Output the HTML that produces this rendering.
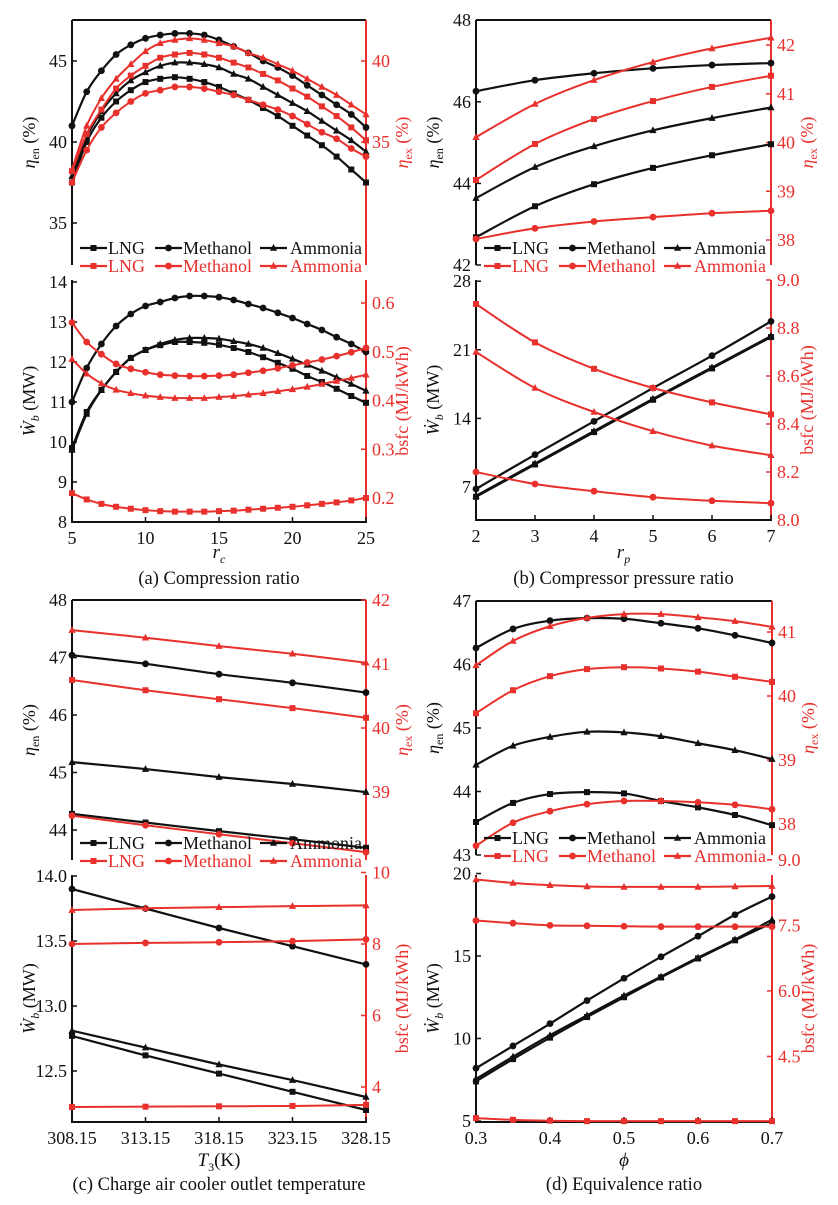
<!DOCTYPE html>
<html><head><meta charset="utf-8">
<style>
html,body{margin:0;padding:0;background:#fff;}
svg{display:block;font-family:"Liberation Serif",serif;}
</style></head>
<body>
<svg id="fig" width="838" height="1205" viewBox="0 0 838 1205" xmlns="http://www.w3.org/2000/svg"></svg>
<script>
// ---------- DATA ----------
const xA = [5,6,7,8,9,10,11,12,13,14,15,16,17,18,19,20,21,22,23,24,25];
const aEnLNG = [37.5,40.0,41.5,42.5,43.2,43.7,43.9,44.0,43.9,43.7,43.4,43.0,42.6,42.1,41.6,41.0,40.4,39.8,39.1,38.3,37.5];
const aEnMeth = [41.0,43.1,44.4,45.4,46.0,46.4,46.6,46.7,46.7,46.6,46.3,45.9,45.5,45.0,44.6,44.1,43.5,42.9,42.3,41.7,40.9];
const aEnAmm = [37.9,40.3,41.9,43.0,43.8,44.3,44.7,44.9,44.9,44.8,44.6,44.2,43.9,43.4,42.9,42.4,41.9,41.3,40.7,40.1,39.4];
const aExLNG = [33.2,35.5,37.0,38.3,39.1,39.7,40.2,40.4,40.5,40.4,40.2,39.9,39.6,39.2,38.8,38.3,37.8,37.2,36.6,35.9,35.1];
const aExMeth = [32.5,34.5,35.9,36.8,37.5,38.0,38.2,38.4,38.4,38.3,38.1,37.9,37.6,37.3,37.0,36.6,36.1,35.6,35.2,34.6,34.1];
const aExAmm = [33.3,36.0,37.7,38.9,39.8,40.6,41.1,41.3,41.4,41.3,41.1,40.9,40.5,40.2,39.8,39.4,38.9,38.4,37.9,37.3,36.7];
const aWLNG = [9.85,10.75,11.3,11.75,12.1,12.3,12.42,12.5,12.5,12.48,12.43,12.35,12.25,12.12,11.98,11.83,11.65,11.5,11.33,11.15,10.98];
const aWMeth = [11.0,11.85,12.45,12.9,13.2,13.4,13.5,13.6,13.65,13.65,13.62,13.55,13.45,13.35,13.23,13.1,12.95,12.8,12.62,12.45,12.25];
const aWAmm = [9.8,10.7,11.3,11.75,12.1,12.3,12.45,12.55,12.6,12.6,12.58,12.52,12.45,12.35,12.22,12.08,11.93,11.78,11.62,11.45,11.28];
const aBLNG = [0.21,0.197,0.188,0.182,0.178,0.175,0.173,0.172,0.172,0.172,0.173,0.174,0.176,0.178,0.18,0.182,0.185,0.188,0.191,0.195,0.2];
const aBMeth = [0.56,0.52,0.495,0.475,0.465,0.458,0.453,0.451,0.45,0.45,0.451,0.453,0.457,0.461,0.466,0.472,0.478,0.484,0.491,0.499,0.508];
const aBAmm = [0.485,0.455,0.435,0.422,0.415,0.41,0.407,0.405,0.405,0.405,0.407,0.409,0.412,0.415,0.419,0.423,0.428,0.434,0.44,0.446,0.453];

const xB = [2,3,4,5,6,7];
const bEnLNG = [42.68,43.44,43.98,44.38,44.69,44.96];
const bEnMeth = [46.26,46.53,46.70,46.82,46.90,46.95];
const bEnAmm = [43.64,44.40,44.91,45.30,45.60,45.86];
const bExLNG = [39.23,39.97,40.48,40.85,41.14,41.37];
const bExMeth = [38.02,38.24,38.38,38.47,38.55,38.60];
const bExAmm = [40.11,40.79,41.28,41.65,41.93,42.15];
const bWLNG = [6.0,9.3,12.6,15.9,19.1,22.3];
const bWMeth = [6.8,10.3,13.7,17.1,20.4,23.9];
const bWAmm = [6.1,9.4,12.7,16.0,19.2,22.4];
const bBLNG = [8.90,8.74,8.63,8.55,8.49,8.44];
const bBMeth = [8.20,8.15,8.12,8.095,8.08,8.07];
const bBAmm = [8.70,8.55,8.45,8.37,8.31,8.27];

const xC = [308.15,313.15,318.15,323.15,328.15];
const cEnLNG = [44.28,44.13,43.98,43.84,43.69];
const cEnMeth = [47.04,46.89,46.71,46.56,46.39];
const cEnAmm = [45.18,45.06,44.92,44.80,44.66];
const cExLNG = [40.75,40.59,40.45,40.31,40.16];
const cExMeth = [38.63,38.48,38.34,38.20,38.06];
const cExAmm = [41.53,41.41,41.28,41.16,41.02];
const cWLNG = [12.77,12.62,12.48,12.34,12.20];
const cWMeth = [13.90,13.75,13.60,13.46,13.32];
const cWAmm = [12.81,12.68,12.55,12.43,12.30];
const cBLNG = [3.44,3.45,3.46,3.47,3.50];
const cBMeth = [8.00,8.03,8.05,8.08,8.13];
const cBAmm = [8.95,9.00,9.03,9.06,9.08];

const xD = [0.3,0.35,0.4,0.45,0.5,0.55,0.6,0.65,0.7];
const dEnLNG = [43.52,43.82,43.96,43.99,43.97,43.85,43.75,43.63,43.47];
const dEnMeth = [46.26,46.56,46.69,46.73,46.72,46.65,46.57,46.46,46.34];
const dEnAmm = [44.42,44.72,44.86,44.94,44.93,44.87,44.76,44.65,44.51];
const dExLNG = [39.73,40.09,40.31,40.42,40.45,40.43,40.38,40.30,40.22];
const dExMeth = [37.66,38.02,38.20,38.31,38.36,38.36,38.34,38.30,38.23];
const dExAmm = [40.48,40.86,41.09,41.22,41.28,41.28,41.23,41.17,41.08];
const dWLNG = [7.4,8.75,10.05,11.3,12.5,13.7,14.85,15.95,17.0];
const dWMeth = [8.2,9.55,10.9,12.3,13.65,14.95,16.2,17.5,18.6];
const dWAmm = [7.55,8.9,10.2,11.4,12.6,13.75,14.9,16.0,17.2];
const dBLNG = [3.09,3.05,3.03,3.02,3.02,3.02,3.02,3.02,3.02];
const dBMeth = [7.61,7.55,7.50,7.49,7.48,7.47,7.47,7.47,7.47];
const dBAmm = [8.55,8.47,8.42,8.39,8.38,8.38,8.38,8.39,8.40];

const aXTicks = [5,10,15,20,25];
const bXTicks = [2,3,4,5,6,7];
const cXTicks = ["308.15","313.15","318.15","323.15","328.15"];
const dXTicks = ["0.3","0.4","0.5","0.6","0.7"];

// ---------- DRAW ----------
const NS = "http://www.w3.org/2000/svg";
const svg = document.getElementById('fig');
const RED = "#e8302c";
function mk(tag, attrs, parent){
  const e = document.createElementNS(NS, tag);
  for (const k in attrs) e.setAttribute(k, attrs[k]);
  (parent||svg).appendChild(e);
  return e;
}
function lin(d0,d1,p0,p1){ return v => p0 + (v-d0)*(p1-p0)/(d1-d0); }

function smoothPath(pts){
  let d = "M"+pts[0][0].toFixed(2)+","+pts[0][1].toFixed(2);
  for (let i=0;i<pts.length-1;i++){
    const p0=pts[Math.max(0,i-1)], p1=pts[i], p2=pts[i+1], p3=pts[Math.min(pts.length-1,i+2)];
    const c1=[p1[0]+(p2[0]-p0[0])/6, p1[1]+(p2[1]-p0[1])/6];
    const c2=[p2[0]-(p3[0]-p1[0])/6, p2[1]-(p3[1]-p1[1])/6];
    d += " C"+c1[0].toFixed(2)+","+c1[1].toFixed(2)+" "+c2[0].toFixed(2)+","+c2[1].toFixed(2)+" "+p2[0].toFixed(2)+","+p2[1].toFixed(2);
  }
  return d;
}
function marker(g, type, x, y, color, s){
  let e;
  if (type==='sq') e = mk('rect',{x:x-s,y:y-s,width:2*s,height:2*s,fill:color},g);
  else if (type==='ci') e = mk('circle',{cx:x,cy:y,r:s+0.4,fill:color},g);
  else e = mk('polygon',{points:`${x},${y-s-1} ${x-s-0.6},${y+s-0.2} ${x+s+0.6},${y+s-0.2}`,fill:color},g);
  return e;
}
function series(name, xs, ys, sx, sy, color, type){
  const g = mk('g',{});
  
  
  const pts = xs.map((x,i)=>[sx(x), sy(ys[i])]);
  const p = mk('path',{d:smoothPath(pts),fill:'none',stroke:color,'stroke-width':color===RED?2:2.2},g);
  
  
  pts.forEach(pt=>{
    const m = marker(g,type,pt[0],pt[1],color,3);
    
    
  });
}
function text(str, x, y, opts, name){
  const t = mk('text',Object.assign({x:x,y:y,'font-size':18,fill:'#111'},opts||{}));
  t.textContent = str;
  
  
  return t;
}
function yAxis(x, top, bot, ticks, sy, color, side, name){
  const l = mk('line',{x1:x,y1:top,x2:x,y2:bot,stroke:color,'stroke-width':2});
  
  
  ticks.forEach(t=>{
    const y = sy(parseFloat(t));
    const dx = side==='L'? 5 : -5;
    mk('line',{x1:x,y1:y,x2:x+dx,y2:y,stroke:color,'stroke-width':1.5});
    if (side==='L') text(t, x-5, y+6, {'text-anchor':'end',fill:color}, name+'-tick');
    else text(t, x+6, y+6, {'text-anchor':'start',fill:color}, name+'-tick');
  });
}
function xAxis(x0,x1,y,ticks,sx,name){
  const l = mk('line',{x1:x0-1,y1:y,x2:x1+1,y2:y,stroke:'#111','stroke-width':2});
  
  
  ticks.forEach(t=>{
    const x = sx(parseFloat(t));
    mk('line',{x1:x,y1:y,x2:x,y2:y-5,stroke:'#111','stroke-width':1.5});
    text(String(t), x, y+22, {'text-anchor':'middle'}, name+'-tick');
  });
}
function vlabel(parts, cx, cy, color, name){
  const t = mk('text',{x:0,y:0,'font-size':18,fill:color,'text-anchor':'middle',transform:`translate(${cx},${cy}) rotate(-90)`});
  
  
  parts.forEach(p=>{
    const ts = mk('tspan',p.a||{},t);
    ts.textContent = p.s;
  });
}
function legend(x0, yb){
  const items = [['LNG','sq',8,36],['Methanol','ci',83,111],['Ammonia','tr',188,218]];
  [['#111',yb-17],[RED,yb+1]].forEach(([c,y],row)=>{
    const g = mk('g',{});
    
    
    items.forEach(([lab,m,s,tx])=>{
      mk('line',{x1:x0+s,y1:y,x2:x0+s+27,y2:y,stroke:c,'stroke-width':2.2},g);
      marker(g,m,x0+s+13.5,y,c,3);
      const t = text(lab, x0+tx, y+6, {fill:c}, 'legend-entry');
      g.appendChild(t);
    });
  });
}

function panel(P){
  const sx = lin(P.xd[0],P.xd[1],P.x0,P.x1);
  mk('line',{x1:P.x0,y1:P.ut,x2:P.x1,y2:P.ut,stroke:'#111','stroke-width':2});
  yAxis(P.x0,P.ut,P.ub,P.uLT,P.uL,'#111','L',P.id+'-upper-left-axis');
  yAxis(P.x1,P.ut,P.ub,P.uRT,P.uR,RED,'R',P.id+'-upper-right-axis');
  yAxis(P.x0,P.lt,P.lb,P.lLT,P.lL,'#111','L',P.id+'-lower-left-axis');
  yAxis(P.x1,P.lt,P.lb,P.lRT,P.lR,RED,'R',P.id+'-lower-right-axis');
  xAxis(P.x0,P.x1,P.lb,P.xt,sx,P.id+'-x-axis');
  const S = P.S;
  series(P.id+'-en-lng',P.xs,S[0],sx,P.uL,'#111','sq');
  series(P.id+'-en-methanol',P.xs,S[1],sx,P.uL,'#111','ci');
  series(P.id+'-en-ammonia',P.xs,S[2],sx,P.uL,'#111','tr');
  series(P.id+'-ex-lng',P.xs,S[3],sx,P.uR,RED,'sq');
  series(P.id+'-ex-methanol',P.xs,S[4],sx,P.uR,RED,'ci');
  series(P.id+'-ex-ammonia',P.xs,S[5],sx,P.uR,RED,'tr');
  series(P.id+'-w-lng',P.xs,S[6],sx,P.lL,'#111','sq');
  series(P.id+'-w-methanol',P.xs,S[7],sx,P.lL,'#111','ci');
  series(P.id+'-w-ammonia',P.xs,S[8],sx,P.lL,'#111','tr');
  series(P.id+'-bsfc-lng',P.xs,S[9],sx,P.lR,RED,'sq');
  series(P.id+'-bsfc-methanol',P.xs,S[10],sx,P.lR,RED,'ci');
  series(P.id+'-bsfc-ammonia',P.xs,S[11],sx,P.lR,RED,'tr');
  legend(P.x0, P.ub);
  const lx = P.x0-37, rx = P.x1+42;
  const um = (P.ut+P.ub)/2, lm=(P.lt+P.lb)/2;
  vlabel([{s:'η',a:{'font-style':'italic'}},{s:'en',a:{'font-size':12,dy:4}},{s:' (%)',a:{dy:-4}}], lx, um, '#111', P.id+'-y-label-en');
  vlabel([{s:'η',a:{'font-style':'italic'}},{s:'ex',a:{'font-size':12,dy:4}},{s:' (%)',a:{dy:-4}}], rx, um, RED, P.id+'-y-label-ex');
  vlabel([{s:'Ẇ',a:{'font-style':'italic'}},{s:'b',a:{'font-size':12,dy:4,'font-style':'italic'}},{s:' (MW)',a:{dy:-4}}], lx, lm, '#111', P.id+'-y-label-w');
  vlabel([{s:'bsfc (MJ/kWh)'}], rx, lm, RED, P.id+'-y-label-bsfc');
  const cx = (P.x0+P.x1)/2;
  const xl = mk('text',{x:cx,y:P.lb+P.xlo,'font-size':19,'text-anchor':'middle',fill:'#111'});
  
  
  P.xl.forEach(p=>{ const ts=mk('tspan',p.a||{},xl); ts.textContent=p.s; });
  text(P.cap, cx, P.lb+P.capo, {'text-anchor':'middle','font-size':18.5}, P.id+'-caption');
}

panel({id:'a',x0:72,x1:366,xd:[5,25],xs:xA,xt:aXTicks,xlo:36,capo:62,
  ut:20,ub:265,uL:v=>61+(45-v)*16.2,uR:v=>61+(40-v)*16.2,uLT:['35','40','45'],uRT:['35','40'],
  lt:280,lb:522,lL:v=>522-(v-8)*40,lR:v=>498-(v-0.2)*487.5,lLT:['8','9','10','11','12','13','14'],lRT:['0.2','0.3','0.4','0.5','0.6'],
  S:[aEnLNG,aEnMeth,aEnAmm,aExLNG,aExMeth,aExAmm,aWLNG,aWMeth,aWAmm,aBLNG,aBMeth,aBAmm],
  xl:[{s:'r',a:{'font-style':'italic'}},{s:'c',a:{'font-size':12,dy:5,'font-style':'italic'}}],cap:'(a) Compression ratio'});
panel({id:'b',x0:476,x1:771,xd:[2,7],xs:xB,xt:bXTicks,xlo:38,capo:64,
  ut:20,ub:265,uL:v=>265-(v-42)*40.8,uR:v=>240-(v-38)*48.75,uLT:['42','44','46','48'],uRT:['38','39','40','41','42'],
  lt:280,lb:520,lL:v=>487-(v-7)*9.8,lR:v=>520-(v-8)*240,lLT:['7','14','21','28'],lRT:['8.0','8.2','8.4','8.6','8.8','9.0'],
  S:[bEnLNG,bEnMeth,bEnAmm,bExLNG,bExMeth,bExAmm,bWLNG,bWMeth,bWAmm,bBLNG,bBMeth,bBAmm],
  xl:[{s:'r',a:{'font-style':'italic'}},{s:'p',a:{'font-size':12,dy:5,'font-style':'italic'}}],cap:'(b) Compressor pressure ratio'});
panel({id:'c',x0:72,x1:366,xd:[308.15,328.15],xs:xC,xt:cXTicks,xlo:44,capo:68,
  ut:600,ub:860,uL:v=>830-(v-44)*57.5,uR:v=>792-(v-39)*64,uLT:['44','45','46','47','48'],uRT:['39','40','41','42'],
  lt:875,lb:1122,lL:v=>1071-(v-12.5)*130,lR:v=>944-(v-8)*35.75,lLT:['12.5','13.0','13.5','14.0'],lRT:['4','6','8','10'],
  S:[cEnLNG,cEnMeth,cEnAmm,cExLNG,cExMeth,cExAmm,cWLNG,cWMeth,cWAmm,cBLNG,cBMeth,cBAmm],
  xl:[{s:'T',a:{'font-style':'italic'}},{s:'3',a:{'font-size':12,dy:5}},{s:'(K)',a:{dy:-5}}],cap:'(c) Charge air cooler outlet temperature'});
panel({id:'d',x0:476,x1:772,xd:[0.3,0.7],xs:xD,xt:dXTicks,xlo:44,capo:68,
  ut:601,ub:855,uL:v=>855-(v-43)*63.5,uR:v=>824-(v-38)*64,uLT:['43','44','45','46','47'],uRT:['38','39','40','41'],
  lt:875,lb:1122,lL:v=>1121-(v-5)*16.5,lR:v=>1122-(v-3)*43.7,lLT:['5','10','15','20'],lRT:['4.5','6.0','7.5','9.0'],
  S:[dEnLNG,dEnMeth,dEnAmm,dExLNG,dExMeth,dExAmm,dWLNG,dWMeth,dWAmm,dBLNG,dBMeth,dBAmm],
  xl:[{s:'ϕ',a:{'font-style':'italic'}}],cap:'(d) Equivalence ratio'});
</script>
</body></html>
